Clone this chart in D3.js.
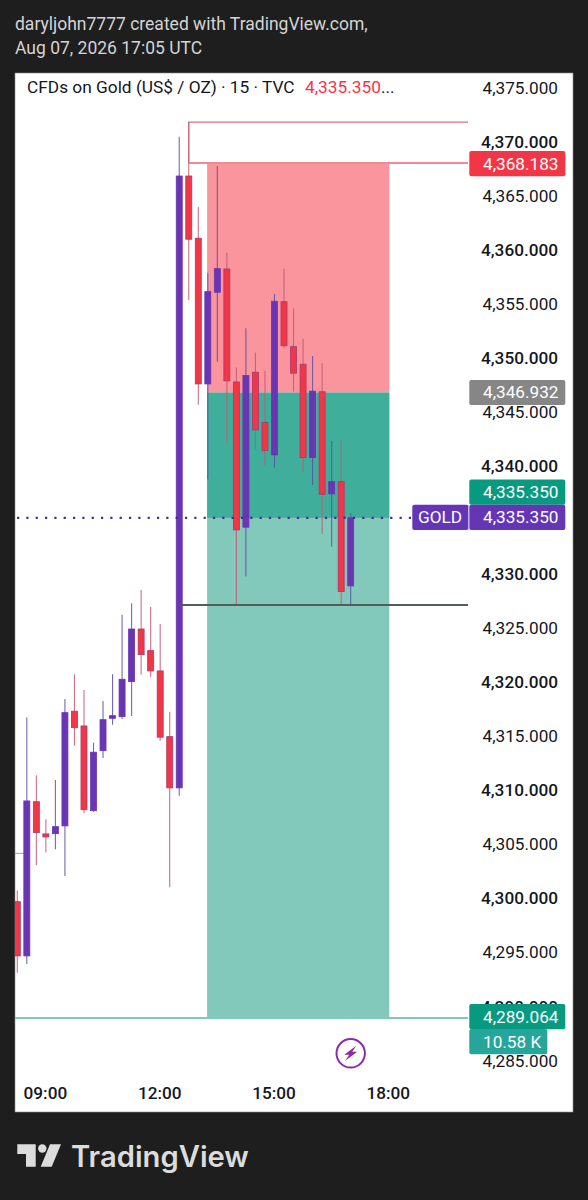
<!DOCTYPE html>
<html><head><meta charset="utf-8">
<script src="https://cdn.jsdelivr.net/npm/d3@7"></script>
<style>
html,body{margin:0;padding:0;background:#1e1e1e;}
svg{display:block;font-family:Roboto,sans-serif;}
</style></head><body><svg id="c" width="588" height="1200"></svg>
<script>
const startTime = "2026-08-07T08:15:00Z";
const opens  = [4299.83,4294.81,4309.08,4306.10,4306.12,4306.84,4317.45,4316.09,4308.25,4313.80,4316.80,4316.95,4320.19,4325.06,4323.06,4321.18,4315.10,4310.36,4366.98,4361.22,4347.74,4356.22,4358.38,4347.92,4334.48,4348.82,4344.16,4341.17,4355.35,4351.19,4349.56,4340.92,4347.02,4337.56,4338.70,4329.05];
const highs  = [4300.85,4316.86,4311.53,4307.46,4311.09,4318.59,4320.87,4319.42,4314.54,4318.40,4320.87,4326.39,4327.44,4328.67,4327.10,4325.53,4317.41,4370.62,4371.98,4364.12,4357.98,4367.91,4359.89,4349.25,4352.89,4350.63,4348.97,4356.07,4358.41,4354.74,4351.93,4350.33,4349.65,4342.46,4342.56,4335.77];
const lows   = [4293.26,4294.07,4303.23,4304.37,4304.68,4302.21,4314.27,4308.01,4308.16,4313.13,4316.21,4316.74,4317.02,4320.84,4320.65,4314.73,4301.17,4309.64,4355.51,4345.82,4338.92,4349.80,4342.25,4327.29,4329.91,4341.63,4340.15,4339.99,4351.04,4347.03,4339.62,4338.39,4333.86,4332.68,4327.29,4327.29];
const closes = [4294.81,4309.15,4306.22,4305.82,4306.77,4317.32,4315.93,4308.34,4313.66,4316.67,4317.04,4320.41,4325.06,4322.69,4321.18,4315.05,4310.36,4366.98,4361.13,4347.74,4356.28,4358.41,4348.02,4334.23,4348.52,4343.48,4341.57,4355.39,4351.28,4348.73,4340.92,4347.07,4337.53,4338.70,4328.52,4335.35];
const priceTicks = [4375,4370,4365,4360,4355,4350,4345,4340,4330,4325,4320,4315,4310,4305,4300,4295,4290,4285];
const timeTicks = ["09:00","12:00","15:00","18:00"];
const stopTop = 4371.98, stopLevel = 4368.183, entryLevel = 4346.932, lastPrice = 4335.35, targetLevel = 4289.064, lowLine = 4327.29, stubLine = 4304.3;
const boxStart = "13:15", boxEnd = "18:00", stopLineStart = "12:45", lowLineStart = "12:30", volumeLabel = "10.58 K", symbolLabel = "GOLD";

const C = {bg:"#1e1e1e",up:"#6a35b2",down:"#f23645",upW:"#5a52a8",downW:"#c25a70",upB:"#6a35b2",downB:"#a53a72"};
const FS = 17.2;
const svg = d3.select("#c");
const t = s => new Date(`2026-08-07T${s}:00Z`);
const x = d3.scaleUtc().domain([new Date(startTime), t("18:00")]).range([17.3, 388.8]);
const y = d3.scaleLinear().domain([stopLevel, targetLevel]).range([163, 1018]);
const fmt = d3.format(",.3f");
const candles = opens.map((o,i)=>({time:new Date(+new Date(startTime)+i*9e5),o,h:highs[i],l:lows[i],c:closes[i]}));

svg.append("rect").attr("x",15).attr("y",73).attr("width",558).attr("height",1039).attr("fill","#fff").attr("stroke","#8a8a8a").attr("stroke-width",.6);
svg.append("defs").append("clipPath").attr("id","p").append("rect").attr("x",15).attr("y",73).attr("width",453).attr("height",1039);
const plot = svg.append("g").attr("clip-path","url(#p)");

// position tool
const bx0 = x(t(boxStart))-.7, bw = x(t(boxEnd))-bx0+.5;
plot.append("rect").attr("x",bx0).attr("width",bw).attr("y",y(stopLevel)).attr("height",y(entryLevel)-y(stopLevel)).attr("fill","#fb959d");
plot.append("rect").attr("x",bx0).attr("width",bw).attr("y",y(entryLevel)).attr("height",y(targetLevel)-y(entryLevel)-1).attr("fill","#82c9bc");
plot.append("rect").attr("x",bx0).attr("width",bw).attr("y",y(entryLevel)).attr("height",y(lastPrice)-y(entryLevel)).attr("fill","#3fae9b");

// drawn lines
const sx = x(t(stopLineStart));
plot.append("path").attr("d",`M${sx},${y(stopLevel)}V${y(stopTop)+.2}H468`).attr("fill","none").attr("stroke","#d0758a").attr("stroke-width",1.2);
plot.append("line").attr("x1",sx).attr("x2",468).attr("y1",y(stopLevel)).attr("y2",y(stopLevel)).attr("stroke","#ee8b95").attr("stroke-width",2);
plot.append("line").attr("x1",15).attr("x2",468).attr("y1",y(targetLevel)).attr("y2",y(targetLevel)).attr("stroke","#82c9bc").attr("stroke-width",2);
plot.append("line").attr("x1",15).attr("x2",25).attr("y1",y(stubLine)).attr("y2",y(stubLine)).attr("stroke","#8fa3a0").attr("stroke-width",1);

// candles
const g = plot.append("g").selectAll("g").data(candles).join("g");
g.append("line").attr("x1",d=>x(d.time)).attr("x2",d=>x(d.time)).attr("y1",d=>y(d.h)).attr("y2",d=>y(d.l))
  .attr("stroke",d=>d.c>=d.o?C.upW:C.downW).attr("stroke-width",1.1).attr("opacity",.85);
g.append("rect").attr("x",d=>x(d.time)-3).attr("width",6)
  .attr("y",d=>y(Math.max(d.o,d.c))).attr("height",d=>Math.max(1.5,Math.abs(y(d.o)-y(d.c))))
  .attr("fill",d=>d.c>=d.o?C.up:C.down).attr("stroke",d=>d.c>=d.o?C.upB:C.downB).attr("stroke-width",.8);

plot.append("line").attr("x1",x(t(lowLineStart))).attr("x2",468).attr("y1",y(lowLine)).attr("y2",y(lowLine)).attr("stroke","#555c5a").attr("stroke-width",2);
plot.append("line").attr("x1",17).attr("x2",411).attr("y1",y(lastPrice)).attr("y2",y(lastPrice)).attr("stroke","#3f2f8f").attr("stroke-width",2.2).attr("stroke-dasharray","2.2 7.13");

// price axis
const ya = svg.append("g").attr("transform","translate(558,-1.4)").call(d3.axisLeft(y).tickValues(priceTicks).tickFormat(fmt).tickSize(0).tickPadding(0));
ya.select(".domain").remove();
ya.selectAll("text").attr("font-family","Roboto,sans-serif").attr("font-size",FS).attr("fill","#131722")
  .attr("font-weight",d=>d%10===0?500:400);

// time axis
const xa = svg.append("g").attr("transform","translate(0,1086)").call(d3.axisBottom(x).tickValues(timeTicks.map(t)).tickFormat(d3.utcFormat("%H:%M")).tickSize(0).tickPadding(0));
xa.select(".domain").remove();
xa.selectAll("text").attr("font-family","Roboto,sans-serif").attr("font-size",FS).attr("fill","#131722").attr("font-weight",500)
  .attr("y",0).attr("dominant-baseline","auto").attr("dy",12.5).attr("dx",-1);

// price labels
function label(v,cy,fill,txt,w=96,lx=469.3,tx=558.5,anchor="end"){
  svg.append("rect").attr("x",lx).attr("y",cy-12.6).attr("width",w).attr("height",25.2).attr("rx",2).attr("fill",fill);
  svg.append("text").attr("x",tx).attr("y",cy+5.9).attr("text-anchor",anchor).attr("font-size",FS).attr("fill","#fff").text(txt);
}
label(stopLevel,163.6,"#f23645",fmt(stopLevel));
label(entryLevel,392.5,"#868686",fmt(entryLevel));
label(lastPrice,492.2,"#089981",fmt(lastPrice));
label(lastPrice,517.3,"#6435b5",fmt(lastPrice));
label(lastPrice,517.3,"#6435b5",symbolLabel,56,412.3,418,"start");
svg.append("line").attr("x1",468.7).attr("x2",468.7).attr("y1",505).attr("y2",530).attr("stroke","#b9a5dd").attr("stroke-width",.8);
label(targetLevel,1016.6,"#089981",fmt(targetLevel));
label(targetLevel,1041.7,"#26a69a",volumeLabel,78,469.3,483,"start");

// header
svg.append("text").attr("x",15).attr("y",30).attr("font-size",17.5).attr("fill","#d4d4d4").text("daryljohn7777 created with TradingView.com,");
svg.append("text").attr("x",15).attr("y",54).attr("font-size",17.5).attr("fill","#d4d4d4").text("Aug 07, 2026 17:05 UTC");
const title = svg.append("text").attr("x",27).attr("y",93).attr("font-size",17.3).attr("fill","#131722");
title.append("tspan").text("CFDs on Gold (US$ / OZ) · 15 · TVC");
title.append("tspan").attr("x",305).attr("fill","#f23645").text(fmt(lastPrice));
title.append("tspan").text("...");

// bolt icon
const ic = svg.append("g").attr("transform","translate(350.7,1053.3)");
ic.append("circle").attr("r",14.2).attr("fill","#fff").attr("stroke","#8e2aa8").attr("stroke-width",2);
ic.append("path").attr("d","M5.5,-7.5 L-6.5,1.5 L-1.5,1.5 L-5.5,7.5 L6.5,-1.5 L1.5,-1.5 Z").attr("fill","#8e2aa8");

// logo
const lg = svg.append("g").attr("fill","#dcdcdc");
lg.append("path").attr("d","M17.3,1144.3H35.7V1166.7H26V1154H17.3Z");
lg.append("circle").attr("cx",42.3).attr("cy",1148.5).attr("r",4.2);
lg.append("path").attr("d","M50,1144.3H61L51.7,1166.7H40.7Z");
lg.append("text").attr("x",71).attr("y",1166.7).attr("font-family","Inter,sans-serif").attr("font-size",29.2).attr("font-weight",600).text("TradingView");
</script></body></html>
